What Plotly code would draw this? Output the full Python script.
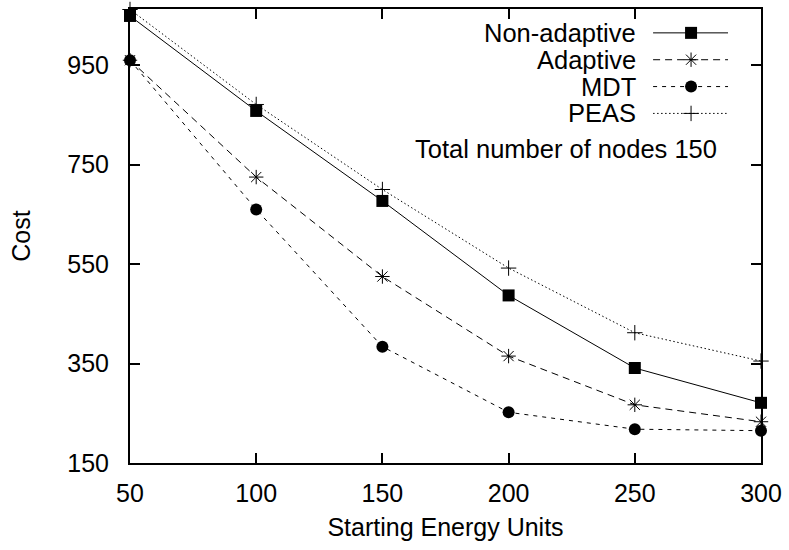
import plotly.graph_objects as go

# Starting energy units (x) and the cost reached by each scheme
energy = [50, 100, 150, 200, 250, 300]
non_adaptive = [1049, 858, 677, 487, 341, 271]
adaptive = [960, 725, 525, 365, 267, 233]
mdt = [960, 660, 384, 252, 218, 215]
peas = [1062, 871, 700, 542, 412, 355]

x_ticks = [50, 100, 150, 200, 250, 300]
y_ticks = [150, 350, 550, 750, 950]

series_names = ["Non-adaptive", "Adaptive", "MDT", "PEAS"]
note_text = "Total number of nodes 150"

FONT = "Liberation Sans, Arial, Helvetica, sans-serif"
FS = 25
FS_KEY = 25.5

# plot-area geometry in pixels (used for the hand-drawn key)
W, H = 789, 550
L, R, T, B = 129.5, 28, 7, 86.5
PW, PH = W - L - R, H - T - B


def px_x(px):
    return (px - L) / PW


def px_y(py):
    return (H - B - py) / PH


styles = [
    dict(dash="solid", symbol="square", size=12, mline=0),
    dict(dash="7px,5px", symbol="asterisk-open", size=12, mline=1),
    dict(dash="4px,5px", symbol="circle", size=12, mline=0),
    dict(dash="1.5px,2.5px", symbol="cross-thin-open", size=11, mline=1),
]

fig = go.Figure()
for name, vals, st in zip(series_names, [non_adaptive, adaptive, mdt, peas], styles):
    fig.add_trace(go.Scatter(
        x=energy, y=vals, name=name, mode="lines+markers",
        line=dict(color="black", width=1, dash=st["dash"]),
        marker=dict(symbol=st["symbol"], size=st["size"], color="black",
                    line=dict(color="black", width=st["mline"])),
        showlegend=False, cliponaxis=False,
    ))

# key: label on the left, line sample with its marker on the right
rows_py = [31, 58, 85, 112]
text_right_px = 638
line_px = (653, 728)
mark_px = 691
annotations = []
for name, st, py in zip(series_names, styles, rows_py):
    fig.add_trace(go.Scatter(
        x=[px_x(line_px[0]), px_x(line_px[1])], y=[px_y(py)] * 2,
        xaxis="x2", yaxis="y2", mode="lines",
        line=dict(color="black", width=1, dash=st["dash"]),
        showlegend=False, hoverinfo="skip",
    ))
    fig.add_trace(go.Scatter(
        x=[px_x(mark_px)], y=[px_y(py)], xaxis="x2", yaxis="y2", mode="markers",
        marker=dict(symbol=st["symbol"], size=st["size"], color="black",
                    line=dict(color="black", width=st["mline"])),
        showlegend=False, hoverinfo="skip",
    ))
    annotations.append(dict(
        text=name, xref="x2", yref="y2", x=px_x(text_right_px), y=px_y(py),
        xanchor="right", yanchor="middle", showarrow=False,
        font=dict(family=FONT, size=FS_KEY, color="black"),
    ))

annotations.append(dict(
    text=note_text, xref="x2", yref="y2", x=px_x(719), y=px_y(148),
    xanchor="right", yanchor="middle", showarrow=False,
    font=dict(family=FONT, size=FS_KEY, color="black"),
))

axis_common = dict(
    showline=True, linecolor="black", linewidth=2, mirror="ticks",
    ticks="inside", ticklen=10, tickwidth=1.5, tickcolor="black",
    showgrid=False, zeroline=False,
    tickfont=dict(family=FONT, size=FS, color="black"),
)

fig.update_layout(
    width=W, height=H,
    margin=dict(l=L, r=R, t=T, b=B, pad=0),
    paper_bgcolor="white", plot_bgcolor="white",
    font=dict(family=FONT, size=FS, color="black"),
    xaxis=dict(range=[50, 300], tickvals=x_ticks, ticklabelstandoff=7,
               title=dict(text="Starting Energy Units", standoff=12,
                          font=dict(family=FONT, size=FS)),
               **axis_common),
    yaxis=dict(range=[150, 1063], tickvals=y_ticks, ticklabelstandoff=14,
               title=dict(text="Cost", standoff=30,
                          font=dict(family=FONT, size=FS)),
               **axis_common),
    xaxis2=dict(overlaying="x", range=[0, 1], visible=False, fixedrange=True),
    yaxis2=dict(overlaying="y", range=[0, 1], visible=False, fixedrange=True),
    annotations=annotations,
    showlegend=False,
)

fig.write_html("out.html")
